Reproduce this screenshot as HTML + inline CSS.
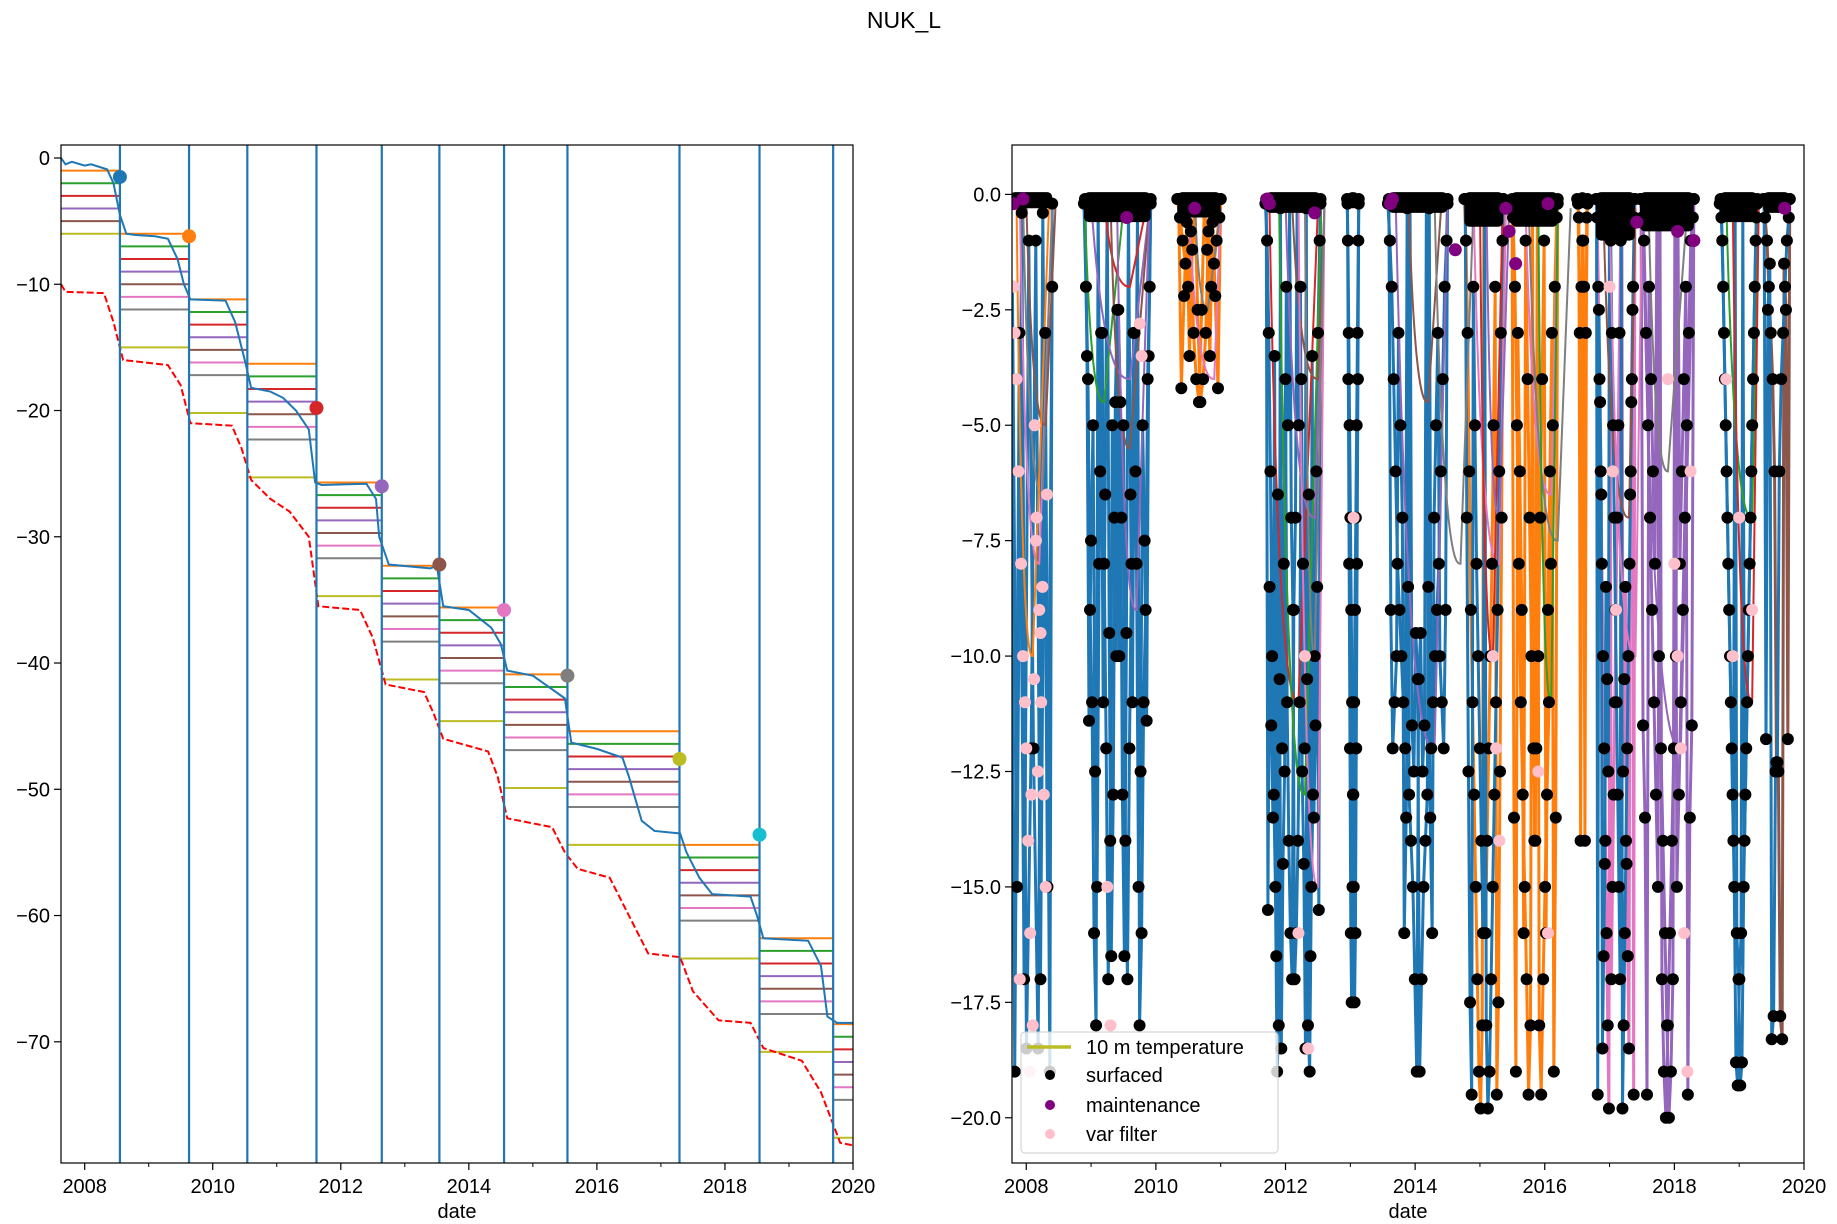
<!DOCTYPE html>
<html><head><meta charset="utf-8"><style>
html,body{margin:0;padding:0;background:#fff;}
svg{display:block;font-family:"Liberation Sans","DejaVu Sans",sans-serif;}
</style></head><body>
<svg id="fig" width="1837" height="1224" viewBox="0 0 1837 1224" xmlns="http://www.w3.org/2000/svg">
<rect width="1837" height="1224" fill="#fff"/>
<text x="904" y="28" font-size="23" text-anchor="middle">NUK_L</text>
<g id="left"></g>
<g id="right"></g>
</svg>
<script>
// ---------------- LEFT PANEL DATA ----------------
const segBounds = [2007.63, 2008.55, 2009.63, 2010.54, 2011.62, 2012.64, 2013.54, 2014.55, 2015.54, 2017.29, 2018.54, 2019.69, 2020];
const segTops = [-1, -6, -11.2, -16.3, -25.7, -32.3, -35.6, -40.9, -45.4, -54.4, -61.8, -68.6];
const vlineYears = [2008.55, 2009.63, 2010.54, 2011.62, 2012.64, 2013.54, 2014.55, 2015.54, 2017.29, 2018.54, 2019.69];
const markYears = [2008.55, 2009.63, 2011.62, 2012.64, 2013.54, 2014.55, 2015.54, 2017.29, 2018.54];
const markDepths = [-1.5, -6.2, -19.8, -26.0, -32.2, -35.8, -41.0, -47.6, -53.6];
const surfYears = [2007.63,2007.7,2007.8,2008.0,2008.1,2008.35,2008.45,2008.55,2008.65,2008.8,2009.1,2009.3,2009.45,2009.55,2009.65,2010.2,2010.35,2010.5,2010.6,2010.9,2011.1,2011.3,2011.5,2011.6,2011.7,2012.4,2012.55,2012.6,2012.75,2013.4,2013.5,2013.6,2014.0,2014.35,2014.5,2014.6,2015.0,2015.5,2015.6,2016.0,2016.4,2016.5,2016.7,2016.9,2017.3,2017.4,2017.6,2017.8,2018.4,2018.5,2018.6,2019.3,2019.5,2019.6,2019.75,2020];
const surfVals = [0,-0.5,-0.3,-0.6,-0.5,-0.9,-2,-4.5,-6.0,-6.1,-6.2,-6.4,-8,-10,-11.2,-11.3,-13,-16,-18.2,-18.5,-19,-20,-21.5,-25.7,-25.9,-25.8,-27,-30,-32.2,-32.5,-32.3,-35.5,-35.8,-37.2,-38.5,-40.6,-41,-42.8,-46.3,-46.8,-47.5,-49,-52.5,-53.3,-53.5,-55,-57,-58.3,-58.5,-60,-61.8,-62,-64,-68,-68.5,-68.5];
const botYears = [2007.63,2007.7,2008.3,2008.45,2008.6,2009.3,2009.5,2009.65,2010.3,2010.45,2010.6,2010.9,2011.2,2011.5,2011.65,2012.3,2012.5,2012.7,2013.3,2013.45,2013.6,2014.3,2014.45,2014.6,2015.3,2015.5,2015.7,2016.2,2016.5,2016.8,2017.3,2017.5,2017.9,2018.4,2018.6,2019.2,2019.5,2019.8,2020];
const botVals = [-10,-10.6,-10.7,-13,-16,-16.4,-18,-21,-21.2,-23,-25.5,-27,-28,-30,-35.5,-35.8,-38,-41.7,-42.3,-44,-46,-47,-49,-52.3,-53,-55,-56.3,-57,-60,-63,-63.3,-66,-68.3,-68.5,-70.5,-71.5,-74,-78,-78.2];
const leftYTicks = [0,-10,-20,-30,-40,-50,-60,-70];
const xTickYears = [2008,2010,2012,2014,2016,2018,2020];
const xMinorYears = [2009,2011,2013,2015,2017,2019];

// ---------------- RIGHT PANEL DATA ----------------
const seasonStart = [2007.75,2008.89,2010.33,2011.69,2012.95,2013.58,2014.76,2015.48,2016.5,2016.79,2017.47,2018.7,2019.37];
const seasonEnd   = [2008.4,2009.92,2011.0,2012.54,2013.13,2014.5,2015.36,2016.2,2016.66,2017.39,2018.3,2019.28,2019.78];
const seasonColor = ['#1f77b4','#1f77b4','#ff7f0e','#1f77b4','#1f77b4','#1f77b4','#ff7f0e','#ff7f0e','#ff7f0e','#e377c2','#9467bd','#1f77b4','#8c564b'];
const topBandDepth = [-0.3,-0.6,-0.5,-0.4,-0.3,-0.4,-0.7,-0.7,-0.3,-1.0,-0.8,-0.6,-0.4];
const surfacedDepths = [
 [-0.2,-19,-3,-17,-1,-12,-18.5,-0.4,-15,-2],
 [-0.2,-2,-4,-9,-11,-16,-18,-0.3,-6,-3,-8,-12,-17,-14,-5,-7,-10,-2.5,-4.5,-13,-16.5,-9.5,-0.2,-6.5,-11,-3,-8,-15,-12.5,-5,-7.5,-11.4,-3.5,-0.1],
 [-0.1,-0.5,-1,-1.5,-2,-0.8,-3,-4,-4.5,-2.5,-0.2,-1.2,-3.5,-0.6,-2.2,-4.2,-0.1],
 [-0.2,-1,-3,-6,-10,-13,-15,-19,-18,-0.3,-12,-8,-4,-11,-14,-16,-17,-9,-7,-0.2,-5,-2,-12.5,-14.5,-18.5,-10.5,-6.5,-16.5,-3.5,-13.5,-11.5,-8.5,-15.5,-0.1],
 [-0.1,-1,-3,-5,-7,-9,-11,-13,-15,-17.5,-16,-12,-8,-4,-0.2],
 [-0.2,-1,-2,-4,-6,-8,-9,-10,-11,-12,-0.3,-13,-14,-15,-17,-19,-10.5,-9.5,-12.5,-11.5,-0.2,-8.5,-13.5,-16,-7,-5,-3,-10,-11,-12,-9,-0.1],
 [-0.1,-1,-3,-6,-9,-11,-13,-15,-17,-19,-19.8,-18,-0.2,-16,-14,-12,-10,-8,-5,-2,-19.5,-17.5,-12.5,-7,-0.1],
 [-0.2,-0.5,-2,-5,-8,-11,-13,-15,-17,-19.5,-18,-0.3,-14,-12,-10,-7,-4,-1,-16,-9,-6,-3,-19,-13.5,-0.1],
 [-0.1,-0.5,-14,-1,-2,-3,-0.2],
 [-0.1,-0.5,-2,-4,-6,-8,-10,-12,-14,-16,-18,-19.8,-0.3,-17,-15,-13,-11,-9,-7,-5,-3,-1,-0.2,-12.5,-10.5,-8.5,-14.5,-16.5,-18.5,-6.5,-4.5,-2.5,-19.5,-0.1],
 [-0.1,-0.5,-1,-3,-5,-7,-9,-11,-13,-15,-0.2,-17,-19,-20,-18,-16,-14,-12,-10,-0.3,-8,-6,-4,-2,-19.5,-13.5,-11.5,-0.1],
 [-0.2,-0.5,-2,-4,-6,-8,-10,-12,-14,-0.3,-16,-17,-19.3,-18.8,-15,-13,-11,-9,-7,-5,-3,-1,-0.1],
 [-0.1,-0.5,-1,-2,-3,-4,-6,-12.3,-12.5,-17.8,-18.3,-1.5,-2.5,-11.8,-0.1]
];
const varFilterYears = [2007.8,2007.85,2007.88,2007.92,2007.95,2008.0,2008.03,2008.06,2008.1,2008.13,2008.16,2008.2,2008.23,2008.27,2008.3,2007.82,2007.9,2008.05,2008.12,2008.18,2008.25,2008.32,2009.25,2009.3,2009.75,2009.78,2012.2,2012.3,2012.35,2013.05,2015.2,2015.25,2015.9,2016.05,2017.0,2017.1,2017.9,2018.0,2018.1,2018.15,2018.2,2018.25,2018.8,2018.9,2019.0,2019.2,2007.98,2008.08,2008.15,2008.22,2015.3,2017.05,2018.05];
const varFilterVals = [-2,-4,-6,-8,-10,-12,-14,-16,-18,-5,-7,-9,-11,-13,-15,-3,-17,-19,-10.5,-12.5,-8.5,-6.5,-15,-18,-2.8,-3.5,-16,-10,-18.5,-7,-10,-12,-12.5,-16,-2,-9,-4,-8,-12,-16,-19,-6,-4,-10,-7,-9,-11,-13,-7.5,-9.5,-14,-6,-10];
const maintYears = [2007.8,2007.95,2009.55,2010.6,2011.72,2012.45,2013.62,2014.62,2015.4,2015.55,2016.05,2017.42,2018.3,2019.7,2018.05,2011.75,2013.65,2015.45];
const maintVals = [-0.2,-0.1,-0.5,-0.3,-0.1,-0.4,-0.2,-1.2,-0.3,-1.5,-0.2,-0.6,-1.0,-0.3,-0.8,-0.2,-0.1,-0.8];
const curveColor = ['#e377c2','#7f7f7f','#8c564b','#ff7f0e','#2ca02c','#9467bd','#d62728','#8c564b','#9467bd','#e377c2','#7f7f7f','#d62728','#2ca02c','#9467bd','#8c564b','#e377c2','#7f7f7f','#9467bd','#8c564b','#7f7f7f','#e377c2','#d62728','#9467bd','#e377c2','#7f7f7f','#2ca02c','#8c564b','#e377c2','#9467bd','#7f7f7f','#2ca02c','#d62728'];
const curveStart = [2007.9,2007.95,2008.0,2007.85,2008.9,2009.0,2009.2,2009.3,2009.4,2010.5,2010.6,2011.75,2011.9,2012.0,2012.1,2012.2,2012.3,2013.7,2013.9,2014.3,2014.9,2015.0,2015.1,2015.7,2015.75,2015.9,2016.9,2017.0,2017.5,2017.6,2018.8,2018.9];
const curveLow  = [2008.2,2008.25,2008.3,2008.1,2009.2,2009.6,2009.6,2009.6,2009.7,2010.9,2010.8,2012.2,2012.3,2012.45,2012.5,2012.5,2012.45,2014.3,2014.2,2014.7,2015.3,2015.2,2015.3,2016.1,2016.2,2016.1,2017.3,2017.4,2018.1,2017.9,2019.2,2019.2];
const curveEnd  = [2008.4,2008.4,2008.45,2008.35,2009.5,2009.9,2009.85,2009.9,2009.9,2011.0,2011.0,2012.5,2012.55,2012.6,2012.6,2012.6,2012.6,2014.5,2014.4,2014.9,2015.4,2015.35,2015.45,2016.2,2016.4,2016.2,2017.4,2017.5,2018.3,2018.2,2019.3,2019.3];
const curveDepth = [-8,-6.5,-5,-10,-4.5,-4,-2,-5.5,-9,-4,-2.5,-11,-13,-7,-4,-15,-10,-12,-4.5,-8,-8,-10,-7,-6.5,-7.5,-11,-7,-10,-12,-6,-7,-11];
const rightYTicks = [0,-2.5,-5,-7.5,-10,-12.5,-15,-17.5,-20];
const rightYLabels = ['0.0','−2.5','−5.0','−7.5','−10.0','−12.5','−15.0','−17.5','−20.0'];
const legendLabels = ['10 m temperature','surfaced','maintenance','var filter'];

// ---------------- DRAWING ----------------
const NS = 'http://www.w3.org/2000/svg';
function mk(parent, tag, attrs){ const e=document.createElementNS(NS,tag); for(const k in attrs) e.setAttribute(k,attrs[k]); parent.appendChild(e); return e; }
const segColors = ['#ff7f0e','#2ca02c','#d62728','#9467bd','#8c564b','#e377c2','#7f7f7f'];
const FS = 20;

// LEFT
const L = {x0:61,x1:853,y0:145,y1:1163,xmin:2007.63,xmax:2020,ymax:1.03,ymin:-79.6};
const lx = v => L.x0 + (v-L.xmin)/(L.xmax-L.xmin)*(L.x1-L.x0);
const ly = v => L.y0 + (L.ymax-v)/(L.ymax-L.ymin)*(L.y1-L.y0);
const gl = document.getElementById('left');
const lclip = mk(gl,'clipPath',{id:'lclip'}); mk(lclip,'rect',{x:L.x0,y:L.y0,width:L.x1-L.x0,height:L.y1-L.y0});
const lplot = mk(gl,'g',{'clip-path':'url(#lclip)'});
for(let i=0;i<segTops.length;i++){
  const a=lx(segBounds[i]), b=lx(segBounds[i+1]);
  const n = i===0 ? 5 : 7;
  for(let k=0;k<n;k++){
    const ln=mk(lplot,'line',{x1:a,x2:b,y1:ly(segTops[i]-k),y2:ly(segTops[i]-k),stroke:segColors[k],'stroke-width':2});
    
    
  }
  const off = i===0 ? 5 : 9;
  const ol=mk(lplot,'line',{x1:a,x2:b,y1:ly(segTops[i]-off),y2:ly(segTops[i]-off),stroke:'#bcbd22','stroke-width':2});
  
  
}
const surf = mk(lplot,'polyline',{points:surfYears.map((y,i)=>lx(y)+','+ly(surfVals[i])).join(' '),fill:'none',stroke:'#1f77b4','stroke-width':2});


const bot = mk(lplot,'polyline',{points:botYears.map((y,i)=>lx(y)+','+ly(botVals[i])).join(' '),fill:'none',stroke:'#ff0000','stroke-width':2,'stroke-dasharray':'7,3'});


vlineYears.forEach(y=>{
  const v=mk(lplot,'line',{x1:lx(y),x2:lx(y),y1:L.y0,y2:L.y1,stroke:'#1f77b4','stroke-width':2.2});
  
  
});
const markCols=['#1f77b4','#ff7f0e','#d62728','#9467bd','#8c564b','#e377c2','#7f7f7f','#bcbd22','#17becf'];
markYears.forEach((y,i)=>{
  const c=mk(lplot,'circle',{cx:lx(y),cy:ly(markDepths[i]),r:7,fill:markCols[i]});
  
  
});
function axes(g,A,fx,fy,yt,ylab,name){
  const fr=mk(g,'rect',{x:A.x0,y:A.y0,width:A.x1-A.x0,height:A.y1-A.y0,fill:'none',stroke:'#000','stroke-width':1.2});
  
  
  xTickYears.forEach(y=>{
    const x=fx(y); mk(g,'line',{x1:x,x2:x,y1:A.y1,y2:A.y1+7,stroke:'#000','stroke-width':1.2});
    const t=mk(g,'text',{x:x,y:A.y1+30,'font-size':FS,'text-anchor':'middle'}); t.textContent=y;
    
    
  });
  xMinorYears.forEach(y=>{ const x=fx(y); mk(g,'line',{x1:x,x2:x,y1:A.y1,y2:A.y1+4,stroke:'#000','stroke-width':1}); });
  yt.forEach((v,i)=>{
    const y=fy(v); mk(g,'line',{x1:A.x0-7,x2:A.x0,y1:y,y2:y,stroke:'#000','stroke-width':1.2});
    const t=mk(g,'text',{x:A.x0-11,y:y+7,'font-size':FS,'text-anchor':'end'}); t.textContent=ylab[i];
    
    
  });
  const xl=mk(g,'text',{x:(A.x0+A.x1)/2,y:A.y1+55,'font-size':FS,'text-anchor':'middle'}); xl.textContent='date';
  
  
}
axes(gl,L,lx,ly,leftYTicks,leftYTicks.map(v=>v===0?'0':'−'+(-v)),'left');

// RIGHT
const R = {x0:1012,x1:1804,y0:145,y1:1163,xmin:2007.78,xmax:2020,ymax:1.07,ymin:-20.98};
const rx = v => R.x0 + (v-R.xmin)/(R.xmax-R.xmin)*(R.x1-R.x0);
const ry = v => R.y0 + (R.ymax-v)/(R.ymax-R.ymin)*(R.y1-R.y0);
const gr = document.getElementById('right');
const rclip = mk(gr,'clipPath',{id:'rclip'}); mk(rclip,'rect',{x:R.x0,y:R.y0,width:R.x1-R.x0,height:R.y1-R.y0});
const rplot = mk(gr,'g',{'clip-path':'url(#rclip)'});
function seasonX(s,i,n,shift){ const a=seasonStart[s], b=seasonEnd[s]; return rx(a+(b-a)*Math.min(1,(i+shift)/(n-1))); }
surfacedDepths.forEach((arr,s)=>{
  const n=arr.length;
  const pts=arr.map((v,i)=>seasonX(s,i,n,0)+','+ry(v)).join(' ');
  const p=mk(rplot,'polyline',{points:pts,fill:'none',stroke:seasonColor[s],'stroke-width':3});
  
  
  const rev=arr.slice().reverse();
  const pts2=rev.map((v,i)=>seasonX(s,i,n,0.5)+','+ry(v)).join(' ');
  const p2=mk(rplot,'polyline',{points:pts2,fill:'none',stroke:s%3===0?'#1f77b4':seasonColor[s],'stroke-width':3});
  
  
});
curveStart.forEach((s,i)=>{
  const x0=rx(s), xm=rx(curveLow[i]), x1=rx(curveEnd[i]), y0=ry(-0.1), ym=ry(curveDepth[i]);
  const d='M'+x0+','+y0+' C'+(x0+(xm-x0)*0.3)+','+ym+' '+(xm-(xm-x0)*0.2)+','+ym+' '+xm+','+ym+' L'+x1+','+ry(-0.3);
  const p=mk(rplot,'path',{d:d,fill:'none',stroke:curveColor[i],'stroke-width':2});
  
  
});
seasonStart.forEach((a,s)=>{
  const band=mk(rplot,'rect',{x:rx(a),y:ry(0.05),width:rx(seasonEnd[s])-rx(a),height:ry(topBandDepth[s])-ry(0.05),fill:'#000',rx:5});
  
  
});
surfacedDepths.forEach((arr,s)=>{
  const n=arr.length;
  arr.forEach((v,i)=>{
    const c=mk(rplot,'circle',{cx:seasonX(s,i,n,0),cy:ry(v),r:6,fill:'#000'});
    
    
    const c2=mk(rplot,'circle',{cx:seasonX(s,n-1-i,n,0.5),cy:ry(v),r:6,fill:'#000'});
    
    
  });
});
varFilterYears.forEach((y,i)=>{
  const c=mk(rplot,'circle',{cx:rx(y),cy:ry(varFilterVals[i]),r:6,fill:'#ffc0cb'});
  
  
});
maintYears.forEach((y,i)=>{
  const c=mk(rplot,'circle',{cx:rx(y),cy:ry(maintVals[i]),r:6.5,fill:'#800080'});
  
  
});
axes(gr,R,rx,ry,rightYTicks,rightYLabels,'right');
const lg=mk(gr,'g',{});


mk(lg,'rect',{x:1021,y:1032,width:257,height:121,rx:4,fill:'#fff','fill-opacity':0.8,stroke:'#ccc','stroke-width':1});
const rowY=[1047,1075,1105,1134];
mk(lg,'line',{x1:1027,x2:1071,y1:rowY[0],y2:rowY[0],stroke:'#bcbd22','stroke-width':3.5});
mk(lg,'circle',{cx:1050,cy:rowY[1],r:5,fill:'#000'});
mk(lg,'circle',{cx:1050,cy:rowY[2],r:5,fill:'#800080'});
mk(lg,'circle',{cx:1050,cy:rowY[3],r:5,fill:'#ffc0cb'});
legendLabels.forEach((t,i)=>{
  const e=mk(lg,'text',{x:1086,y:rowY[i]+7,'font-size':FS}); e.textContent=t;
  
  
});
</script>
</body></html>
